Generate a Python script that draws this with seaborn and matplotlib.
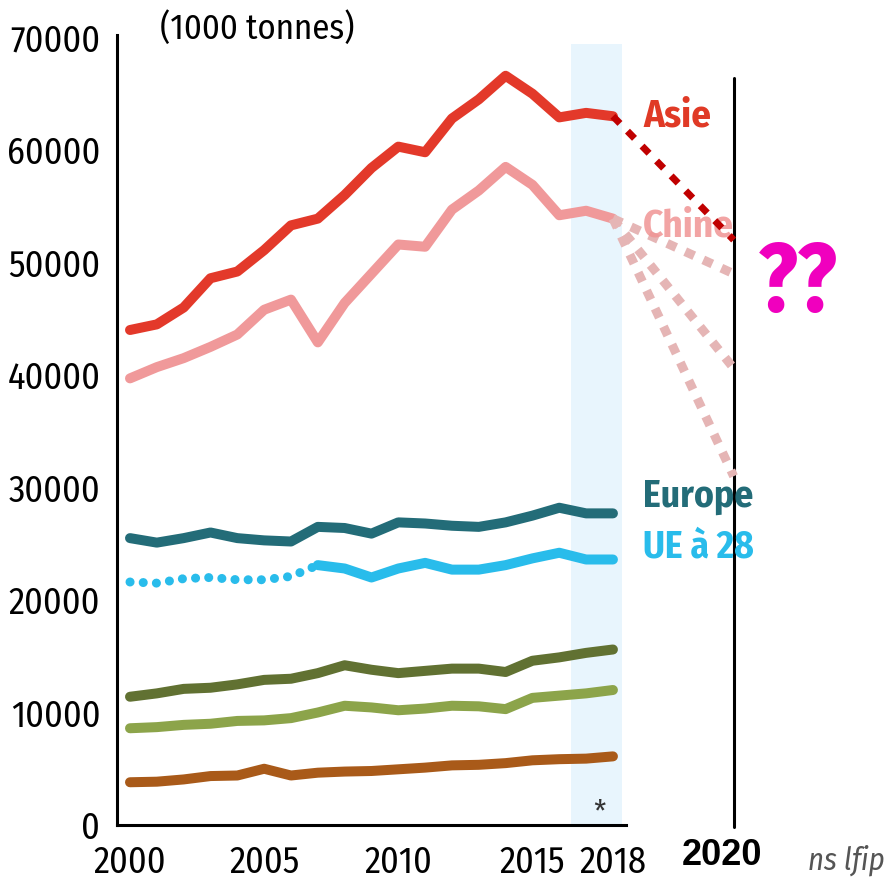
import numpy as np
import pandas as pd
import matplotlib
matplotlib.use("Agg")
import matplotlib.pyplot as plt
import seaborn as sns

# data (1000 tonnes)
years = list(range(2000, 2019))
asie = [44000, 44500, 46000, 48600, 49200, 51100, 53300, 53900, 56000, 58400,
        60300, 59800, 62800, 64500, 66600, 65000, 62900, 63300, 63000]
chine = [39700, 40700, 41500, 42500, 43600, 45800, 46700, 42900, 46400, 49000,
         51600, 51400, 54700, 56400, 58500, 56900, 54200, 54600, 53900]
europe = [25500, 25100, 25500, 26000, 25500, 25300, 25200, 26500, 26400, 25900,
          26900, 26800, 26600, 26500, 26900, 27500, 28200, 27700, 27700]
ue28 = [21600, 21500, 21900, 22000, 21800, 21800, 22100, 23100, 22800, 22000,
        22800, 23300, 22700, 22700, 23100, 23700, 24200, 23600, 23600]
vert_fonce = [11400, 11700, 12100, 12200, 12500, 12900, 13000, 13500, 14200, 13800,
              13500, 13700, 13900, 13900, 13600, 14600, 14900, 15300, 15600]
vert_clair = [8600, 8700, 8900, 9000, 9250, 9300, 9500, 10000, 10600, 10450,
              10200, 10350, 10600, 10550, 10300, 11300, 11500, 11700, 12000]
brun = [3800, 3850, 4050, 4350, 4400, 5000, 4400, 4650, 4750, 4800,
        4950, 5100, 5300, 5350, 5500, 5750, 5850, 5900, 6100]

# rough scenarios towards the "2020" line
x_proj = 2022.5
asie_proj = 52000
chine_proj = [49000, 40600, 31000]

sns.set_style("white")
plt.rcParams["font.family"] = ["Fira Sans Condensed", "DejaVu Sans"]

df = pd.DataFrame({"annee": years, "asie": asie, "chine": chine, "europe": europe,
                   "ue28": ue28, "vf": vert_fonce, "vc": vert_clair, "brun": brun})

fig = plt.figure(figsize=(8.89, 8.83), dpi=100)
ax = fig.add_axes([117 / 889, 58 / 883, 772 / 889, 825 / 883])

# shaded band for the last years
ax.fill_between([2016.45, 2018.35], -300, 69400, color="#E8F5FD", zorder=0, lw=0)

lw = 7.2
line_kw = dict(linewidth=lw, solid_capstyle="round", solid_joinstyle="round")
sns.lineplot(data=df, x="annee", y="brun", color="#A95A19", ax=ax, **line_kw)
sns.lineplot(data=df, x="annee", y="vc", color="#8CA44A", ax=ax, **line_kw)
sns.lineplot(data=df, x="annee", y="vf", color="#617132", ax=ax, **line_kw)
sns.lineplot(data=df, x="annee", y="europe", color="#236C78", ax=ax, **line_kw)

# UE a 28: dotted before 2007, solid after
ue_old = df[df["annee"] <= 2007]
ue_new = df[df["annee"] >= 2007]
ax.plot(ue_old["annee"], ue_old["ue28"], color="#29BCEB", linewidth=6.5,
        linestyle=(0, (0.01, 1.45)), dash_capstyle="round")
sns.lineplot(data=ue_new, x="annee", y="ue28", color="#29BCEB", ax=ax, **line_kw)

# China scenarios
for v in chine_proj:
    ax.plot([2018, x_proj], [chine[-1], v], color="#E5B5B5", linewidth=6.5,
            linestyle=(0, (1.1, 1.1)), dash_capstyle="butt", zorder=3)
sns.lineplot(data=df, x="annee", y="chine", color="#F0999A", ax=ax, **line_kw)

ax.plot([2018, x_proj], [asie[-1], asie_proj], color="#C00000", linewidth=5,
        linestyle=(0, (1.45, 1.55)), dash_capstyle="butt", zorder=4)
sns.lineplot(data=df, x="annee", y="asie", color="#E3392A", ax=ax, **line_kw)

# 2020 line
ax.plot([x_proj, x_proj], [-200, 66400], color="black", linewidth=2.2, clip_on=False)

ax.set_xlim(1999.515, 2028.29)
ax.set_ylim(0, 73333)
for s in ["top", "right"]:
    ax.spines[s].set_visible(False)
for s in ["left", "bottom"]:
    ax.spines[s].set_linewidth(2.2)
    ax.spines[s].set_color("black")
ax.spines["left"].set_bounds(0, 70200)
ax.spines["bottom"].set_bounds(1999.515, 2018.5)

ax.set_yticks(range(0, 70001, 10000))
ax.set_yticklabels([str(v) for v in range(0, 70001, 10000)])
ax.tick_params(axis="y", direction="in", length=5, width=2, labelsize=26, pad=12,
               labelcolor="black")

ax.set_xticks([2000, 2005, 2010, 2015, 2018])
ax.set_xticklabels(["2000", "2005", "2010", "2015", "2018"])
ax.set_xticks(np.arange(2000.5, 2018.6, 1), minor=True)
ax.tick_params(axis="x", which="major", length=0, labelsize=26, pad=14, labelcolor="black")
ax.tick_params(axis="x", which="minor", direction="in", length=8, width=2)
ax.set_xlabel("")
ax.set_ylabel("")

# labels
ax.text(2019.12, 62050, "Asie", color="#E03A26", fontsize=28, fontweight="bold", va="baseline")
ax.text(2019.12, 52270, "Chine", color="#F09494", fontsize=28, fontweight="bold",
        va="baseline", alpha=0.85)
ax.text(2019.12, 28270, "Europe", color="#236C78", fontsize=27, fontweight="bold", va="baseline")
ax.text(2019.12, 23820, "UE à 28", color="#29BCEB", fontsize=27, fontweight="bold", va="baseline")
ax.text(2024.9, 48000, "??", color="#F000BE", fontsize=70, fontweight="bold",
        family=["Fira Sans Extra Condensed", "DejaVu Sans"], ha="center", va="center")
ax.text(2017.5, 1100, "*", color="#333333", fontsize=22, ha="center", va="center")
ax.text(2022.06, -3556, "2020", color="black", fontsize=26, fontweight="bold",
        family=["Liberation Sans", "DejaVu Sans"], ha="center", va="baseline", clip_on=False)
ax.text(2025.27, -4000, "ns lfip", color="#555555", fontsize=22, style="italic",
        va="baseline", clip_on=False)

fig.text(160 / 889, 1 - 39 / 883, "(1000 tonnes)", fontsize=25, va="baseline", color="black")

fig.savefig("out.png", dpi=100)
